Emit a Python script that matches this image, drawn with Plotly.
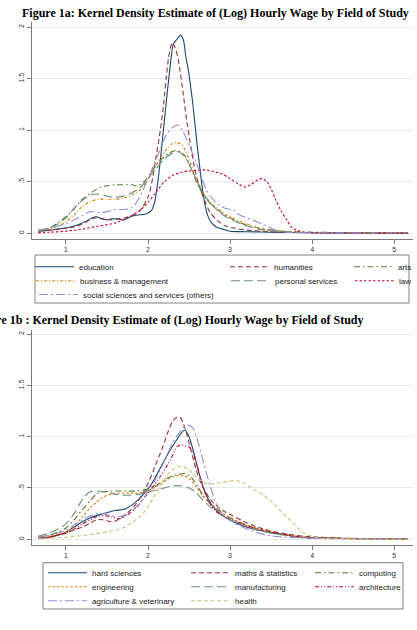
import plotly.graph_objects as go

W, H = 417, 630

# ---------------- Figure 1a data ----------------
edu_x = [0.66, 0.8, 0.9, 1.0, 1.1, 1.17, 1.25, 1.32, 1.37, 1.43, 1.5, 1.56, 1.62, 1.7, 1.76, 1.82, 1.9, 1.98, 2.04, 2.08, 2.12, 2.15, 2.19, 2.23, 2.27, 2.31, 2.35, 2.38, 2.40, 2.43, 2.46, 2.49, 2.52, 2.55, 2.58, 2.61, 2.64, 2.67, 2.71, 2.75, 2.8, 2.86, 2.91, 3.0, 3.2, 3.5, 4.0, 4.5, 5.0, 5.17]
edu_y = [0.02, 0.03, 0.04, 0.05, 0.07, 0.09, 0.12, 0.15, 0.16, 0.14, 0.13, 0.14, 0.14, 0.13, 0.15, 0.17, 0.18, 0.19, 0.22, 0.3, 0.5, 0.71, 1.02, 1.33, 1.62, 1.84, 1.88, 1.91, 1.92, 1.88, 1.72, 1.59, 1.42, 1.23, 1.0, 0.78, 0.58, 0.39, 0.22, 0.13, 0.08, 0.05, 0.04, 0.02, 0.015, 0.01, 0.005, 0.003, 0.002, 0.001]

hum_x = [0.66, 0.8, 0.9, 1.0, 1.1, 1.17, 1.25, 1.32, 1.37, 1.45, 1.55, 1.65, 1.72, 1.8, 1.9, 2.0, 2.06, 2.1, 2.15, 2.19, 2.22, 2.25, 2.28, 2.30, 2.33, 2.36, 2.39, 2.43, 2.47, 2.51, 2.55, 2.6, 2.64, 2.7, 2.75, 2.85, 2.95, 3.05, 3.2, 3.5, 4.0, 4.5, 5.17]
hum_y = [0.02, 0.03, 0.04, 0.05, 0.06, 0.08, 0.11, 0.14, 0.15, 0.14, 0.13, 0.14, 0.15, 0.17, 0.22, 0.35, 0.55, 0.75, 1.0, 1.25, 1.49, 1.7, 1.82, 1.85, 1.80, 1.72, 1.58, 1.35, 1.10, 0.9, 0.71, 0.52, 0.42, 0.3, 0.21, 0.12, 0.07, 0.05, 0.03, 0.015, 0.005, 0.003, 0.001]

arts_x = [0.66, 0.8, 0.9, 1.0, 1.1, 1.2, 1.3, 1.4, 1.5, 1.6, 1.7, 1.8, 1.87, 1.95, 2.02, 2.1, 2.18, 2.26, 2.33, 2.4, 2.46, 2.53, 2.6, 2.66, 2.72, 2.8, 2.9, 3.0, 3.1, 3.2, 3.35, 3.5, 3.7, 4.0, 4.5, 5.17]
arts_y = [0.02, 0.05, 0.1, 0.16, 0.24, 0.33, 0.39, 0.44, 0.46, 0.47, 0.47, 0.47, 0.46, 0.5, 0.57, 0.66, 0.73, 0.78, 0.8, 0.79, 0.74, 0.62, 0.48, 0.39, 0.32, 0.26, 0.2, 0.15, 0.11, 0.08, 0.05, 0.03, 0.015, 0.01, 0.005, 0.002]

bus_x = [0.66, 0.8, 0.9, 1.0, 1.1, 1.2, 1.3, 1.4, 1.5, 1.6, 1.7, 1.8, 1.9, 2.0, 2.1, 2.2, 2.3, 2.36, 2.42, 2.5, 2.58, 2.66, 2.75, 2.85, 2.95, 3.05, 3.2, 3.35, 3.5, 3.7, 4.0, 5.17]
bus_y = [0.02, 0.04, 0.07, 0.11, 0.18, 0.26, 0.31, 0.33, 0.33, 0.33, 0.34, 0.37, 0.42, 0.52, 0.66, 0.79, 0.87, 0.88, 0.85, 0.72, 0.55, 0.41, 0.31, 0.24, 0.18, 0.14, 0.09, 0.05, 0.03, 0.015, 0.008, 0.002]

pers_x = [0.66, 0.8, 0.9, 1.0, 1.1, 1.2, 1.3, 1.38, 1.5, 1.6, 1.7, 1.8, 1.9, 2.0, 2.1, 2.2, 2.3, 2.37, 2.45, 2.52, 2.6, 2.68, 2.76, 2.85, 2.95, 3.05, 3.2, 3.35, 3.5, 3.8, 4.2, 5.17]
pers_y = [0.02, 0.05, 0.09, 0.15, 0.24, 0.32, 0.37, 0.38, 0.36, 0.35, 0.36, 0.39, 0.44, 0.53, 0.63, 0.72, 0.78, 0.79, 0.74, 0.64, 0.5, 0.38, 0.29, 0.22, 0.16, 0.12, 0.07, 0.04, 0.025, 0.01, 0.005, 0.002]

law_x = [0.66, 0.8, 1.0, 1.2, 1.4, 1.6, 1.8, 1.9, 2.0, 2.1, 2.2, 2.3, 2.4, 2.5, 2.6, 2.7, 2.8, 2.9, 3.0, 3.1, 3.18, 3.25, 3.32, 3.39, 3.45, 3.5, 3.56, 3.62, 3.69, 3.75, 3.81, 3.9, 4.0, 4.5, 5.17]
law_y = [0.005, 0.01, 0.02, 0.04, 0.07, 0.1, 0.17, 0.22, 0.3, 0.4, 0.5, 0.56, 0.59, 0.605, 0.61, 0.615, 0.6, 0.575, 0.53, 0.48, 0.45, 0.47, 0.51, 0.53, 0.5, 0.43, 0.32, 0.22, 0.13, 0.06, 0.03, 0.01, 0.005, 0.002, 0.001]

soc_x = [0.66, 0.8, 0.9, 1.0, 1.1, 1.2, 1.29, 1.4, 1.5, 1.6, 1.7, 1.82, 1.94, 2.01, 2.08, 2.15, 2.22, 2.29, 2.36, 2.42, 2.47, 2.53, 2.59, 2.65, 2.71, 2.79, 2.87, 2.95, 3.0, 3.05, 3.11, 3.2, 3.27, 3.33, 3.39, 3.45, 3.52, 3.6, 3.68, 4.0, 5.17]
soc_y = [0.03, 0.05, 0.07, 0.09, 0.13, 0.17, 0.21, 0.2, 0.21, 0.23, 0.23, 0.26, 0.42, 0.55, 0.68, 0.82, 0.95, 1.02, 1.05, 1.0, 0.91, 0.8, 0.68, 0.55, 0.42, 0.33, 0.27, 0.24, 0.23, 0.22, 0.18, 0.15, 0.13, 0.11, 0.09, 0.07, 0.04, 0.02, 0.01, 0.005, 0.002]

# ---------------- Figure 1b data ----------------
hard_x = [0.66, 0.8, 0.9, 1.0, 1.1, 1.2, 1.3, 1.41, 1.5, 1.6, 1.7, 1.8, 1.9, 2.02, 2.1, 2.18, 2.27, 2.35, 2.42, 2.45, 2.5, 2.55, 2.61, 2.67, 2.73, 2.79, 2.88, 2.99, 3.1, 3.24, 3.4, 3.53, 3.7, 3.85, 4.0, 4.3, 4.7, 5.17]
hard_y = [0.01, 0.02, 0.04, 0.07, 0.12, 0.17, 0.21, 0.24, 0.26, 0.28, 0.29, 0.33, 0.4, 0.51, 0.62, 0.74, 0.87, 0.97, 1.05, 1.065, 1.0, 0.87, 0.68, 0.51, 0.4, 0.32, 0.25, 0.19, 0.15, 0.11, 0.08, 0.06, 0.04, 0.02, 0.015, 0.01, 0.005, 0.002]

math_x = [0.66, 0.8, 0.9, 1.0, 1.1, 1.2, 1.3, 1.37, 1.45, 1.57, 1.63, 1.69, 1.78, 1.86, 1.94, 2.02, 2.1, 2.18, 2.25, 2.30, 2.35, 2.39, 2.43, 2.47, 2.53, 2.59, 2.65, 2.71, 2.77, 2.83, 2.93, 3.03, 3.15, 3.3, 3.5, 3.7, 3.9, 4.2, 4.6, 5.17]
math_y = [0.01, 0.02, 0.04, 0.06, 0.09, 0.12, 0.16, 0.19, 0.19, 0.17, 0.19, 0.22, 0.28, 0.35, 0.45, 0.58, 0.74, 0.9, 1.06, 1.15, 1.19, 1.19, 1.13, 1.03, 0.85, 0.67, 0.54, 0.45, 0.38, 0.33, 0.27, 0.23, 0.18, 0.13, 0.08, 0.05, 0.03, 0.015, 0.007, 0.002]

comp_x = [0.66, 0.8, 0.9, 1.0, 1.1, 1.2, 1.3, 1.37, 1.45, 1.55, 1.65, 1.75, 1.85, 1.95, 2.05, 2.15, 2.25, 2.35, 2.45, 2.53, 2.6, 2.68, 2.76, 2.85, 2.95, 3.05, 3.2, 3.35, 3.5, 3.7, 3.9, 4.2, 5.17]
comp_y = [0.02, 0.04, 0.07, 0.11, 0.19, 0.29, 0.38, 0.44, 0.46, 0.47, 0.47, 0.47, 0.47, 0.48, 0.5, 0.55, 0.6, 0.63, 0.64, 0.6, 0.52, 0.42, 0.35, 0.29, 0.23, 0.19, 0.14, 0.1, 0.07, 0.04, 0.02, 0.01, 0.002]

eng_x = [0.66, 0.8, 0.9, 1.0, 1.1, 1.2, 1.3, 1.37, 1.45, 1.55, 1.65, 1.75, 1.85, 1.95, 2.05, 2.15, 2.25, 2.35, 2.43, 2.5, 2.58, 2.66, 2.74, 2.83, 2.93, 3.03, 3.15, 3.3, 3.5, 3.7, 3.9, 4.2, 5.17]
eng_y = [0.02, 0.03, 0.05, 0.07, 0.13, 0.22, 0.31, 0.36, 0.41, 0.44, 0.45, 0.45, 0.45, 0.46, 0.49, 0.54, 0.59, 0.62, 0.62, 0.59, 0.52, 0.43, 0.36, 0.3, 0.24, 0.2, 0.15, 0.11, 0.07, 0.04, 0.02, 0.01, 0.002]

manu_x = [0.66, 0.8, 0.9, 1.0, 1.1, 1.17, 1.23, 1.29, 1.4, 1.5, 1.6, 1.7, 1.8, 1.9, 2.0, 2.1, 2.2, 2.3, 2.41, 2.5, 2.58, 2.66, 2.74, 2.83, 2.93, 3.03, 3.15, 3.3, 3.5, 3.7, 3.9, 4.2, 5.17]
manu_y = [0.03, 0.06, 0.1, 0.15, 0.25, 0.35, 0.42, 0.46, 0.47, 0.46, 0.44, 0.43, 0.43, 0.44, 0.46, 0.48, 0.5, 0.52, 0.52, 0.5, 0.46, 0.39, 0.33, 0.27, 0.22, 0.18, 0.14, 0.1, 0.06, 0.035, 0.02, 0.01, 0.002]

arch_x = [0.66, 0.8, 0.9, 1.0, 1.1, 1.2, 1.3, 1.37, 1.45, 1.55, 1.65, 1.75, 1.85, 1.9, 2.0, 2.06, 2.14, 2.22, 2.3, 2.35, 2.4, 2.45, 2.5, 2.55, 2.59, 2.65, 2.71, 2.77, 2.83, 2.93, 3.03, 3.15, 3.3, 3.5, 3.7, 3.9, 4.2, 5.17]
arch_y = [0.01, 0.02, 0.04, 0.06, 0.1, 0.15, 0.19, 0.22, 0.23, 0.22, 0.2, 0.24, 0.3, 0.35, 0.45, 0.51, 0.6, 0.7, 0.82, 0.9, 0.92, 0.91, 0.9, 0.84, 0.74, 0.58, 0.42, 0.33, 0.27, 0.22, 0.19, 0.15, 0.11, 0.07, 0.04, 0.02, 0.01, 0.002]

agri_x = [0.66, 0.8, 0.9, 1.0, 1.1, 1.2, 1.3, 1.37, 1.45, 1.55, 1.65, 1.75, 1.82, 1.9, 1.98, 2.06, 2.14, 2.22, 2.3, 2.39, 2.45, 2.49, 2.54, 2.59, 2.65, 2.71, 2.77, 2.83, 2.89, 2.95, 3.05, 3.15, 3.24, 3.35, 3.45, 3.6, 3.8, 4.2, 5.17]
agri_y = [0.02, 0.04, 0.06, 0.09, 0.14, 0.19, 0.23, 0.25, 0.25, 0.23, 0.22, 0.25, 0.29, 0.35, 0.44, 0.54, 0.66, 0.8, 0.94, 1.05, 1.1, 1.11, 1.09, 1.0, 0.83, 0.65, 0.49, 0.35, 0.27, 0.22, 0.16, 0.12, 0.09, 0.06, 0.04, 0.025, 0.015, 0.007, 0.002]

heal_x = [0.66, 0.8, 1.0, 1.2, 1.41, 1.61, 1.72, 1.82, 1.9, 1.98, 2.04, 2.1, 2.16, 2.22, 2.3, 2.4, 2.48, 2.55, 2.63, 2.71, 2.79, 2.87, 2.97, 3.08, 3.16, 3.24, 3.32, 3.41, 3.47, 3.53, 3.61, 3.69, 3.77, 3.85, 3.93, 4.0, 4.1, 4.3, 5.17]
heal_y = [0.005, 0.01, 0.02, 0.035, 0.06, 0.09, 0.12, 0.17, 0.22, 0.29, 0.37, 0.45, 0.53, 0.61, 0.68, 0.71, 0.69, 0.64, 0.58, 0.54, 0.54, 0.55, 0.565, 0.57, 0.55, 0.51, 0.47, 0.43, 0.39, 0.35, 0.28, 0.22, 0.16, 0.09, 0.05, 0.03, 0.01, 0.005, 0.001]

y_tickvals = [0, 0.5, 1, 1.5, 2]
y_ticktext = ["0", ".5", "1", "1.5", "2"]
x_tickvals = [1, 2, 3, 4, 5]
x_ticktext = ["1", "2", "3", "4", "5"]

title_a = "Figure 1a: Kernel Density Estimate of (Log) Hourly Wage by Field of Study"
title_b = "Figure 1b : Kernel Density Estimate of (Log) Hourly Wage by Field of Study"

NAVY = "#1a476f"; MAROON = "#90353b"; FOREST = "#55752f"; DKORANGE = "#e37e00"
TEAL = "#6e8e84"; CRANBERRY = "#c10534"; LAVENDER = "#938dd2"; KHAKI = "#cac27e"

SOLID = "solid"
DASH = "5px,3px"
DASHDOT = "6px,3px,1.5px,3px"
SHORTDASHDOT = "3px,2px,1px,2px"
LONGDASH = "9px,4px"
SHORTDASH = "2.5px,2px"
LONGDASHDOT = "9px,3px,2px,3px"
DASHDOTDOT = "4px,2px,1px,2px,1px,2px"
KHAKIDASH = "4px,2.5px"

# (name, x, y, color, dash, legend-row, legendwidth)
series_a = [
    ("education", edu_x, edu_y, NAVY, SOLID, "legend", 141),
    ("humanities", hum_x, hum_y, MAROON, DASH, "legend", 70),
    ("arts", arts_x, arts_y, FOREST, DASHDOT, "legend", None),
    ("business & management", bus_x, bus_y, DKORANGE, SHORTDASHDOT, "legend2", 141),
    ("personal services", pers_x, pers_y, TEAL, LONGDASH, "legend2", 70),
    ("law", law_x, law_y, CRANBERRY, SHORTDASH, "legend2", None),
    ("social sciences and services (others)", soc_x, soc_y, LAVENDER, LONGDASHDOT, "legend3", None),
]
series_b = [
    ("hard sciences", hard_x, hard_y, NAVY, SOLID, "legend4", 89),
    ("maths & statistics", math_x, math_y, MAROON, DASH, "legend4", 70),
    ("computing", comp_x, comp_y, FOREST, DASHDOT, "legend4", None),
    ("engineering", eng_x, eng_y, DKORANGE, SHORTDASH, "legend5", 89),
    ("manufacturing", manu_x, manu_y, TEAL, LONGDASH, "legend5", 70),
    ("architecture", arch_x, arch_y, CRANBERRY, DASHDOTDOT, "legend5", None),
    ("agriculture & veterinary", agri_x, agri_y, LAVENDER, LONGDASHDOT, "legend6", 89),
    ("health", heal_x, heal_y, KHAKI, KHAKIDASH, "legend6", None),
]

fig = go.Figure()
for axes, series in (("1", series_a), ("2", series_b)):
    for name, xs, ys, col, dash, leg, lw in series:
        tr = dict(x=xs, y=ys, mode="lines", name=name,
                  line=dict(color=col, width=1.1, dash=dash, shape="spline", smoothing=0.8),
                  xaxis="x" if axes == "1" else "x2",
                  yaxis="y" if axes == "1" else "y2",
                  legend=leg, hoverinfo="skip")
        if lw is not None:
            tr["legendwidth"] = lw
        fig.add_trace(go.Scatter(**tr))

AXIS_COL = "#7a7a7a"
GRID_COL = "#e4eaea"
TICKFONT = dict(family="Liberation Sans, Arial", size=7, color="#333333")
X_RANGE = [0.586, 5.23]

def xaxis_conf(anchor):
    return dict(domain=[32 / W, 413 / W], range=X_RANGE, tickvals=x_tickvals, ticktext=x_ticktext,
                showline=True, linecolor=AXIS_COL, linewidth=1, ticks="outside", ticklen=4,
                tickcolor=AXIS_COL, showgrid=False, zeroline=False, tickfont=TICKFONT, anchor=anchor)

def yaxis_conf(top_px, bot_px, rng, anchor):
    return dict(domain=[1 - bot_px / H, 1 - top_px / H], range=rng, tickvals=y_tickvals,
                ticktext=y_ticktext, showline=True, linecolor=AXIS_COL, linewidth=1,
                ticks="outside", ticklen=4, tickcolor=AXIS_COL, showgrid=True,
                gridcolor=GRID_COL, gridwidth=1, zeroline=False, tickangle=-90,
                tickfont=TICKFONT, anchor=anchor)

LEGFONT = dict(family="Liberation Sans, Arial", size=8, color="#222222")

def leg(xpx, ycpx):
    return dict(orientation="h", x=xpx / W, xanchor="left", y=1 - ycpx / H, yanchor="middle",
                bgcolor="rgba(0,0,0,0)", borderwidth=0, font=LEGFONT, itemwidth=39,
                tracegroupgap=0, itemclick=False, itemdoubleclick=False)

fig.update_layout(
    width=W, height=H, autosize=False,
    margin=dict(l=0, r=0, t=0, b=0),
    paper_bgcolor="white", plot_bgcolor="white",
    xaxis=xaxis_conf("y"),
    yaxis=yaxis_conf(22, 239, [-0.056, 2.05], "x"),
    xaxis2=xaxis_conf("y2"),
    yaxis2=yaxis_conf(330, 545, [-0.056, 2.04], "x2"),
    legend=leg(34, 266.7),
    legend2=leg(34, 280.7),
    legend3=leg(34, 294.5),
    legend4=leg(43, 572.7),
    legend5=leg(43, 586.7),
    legend6=leg(43, 600.7),
    showlegend=True,
    shapes=[
        dict(type="rect", xref="paper", yref="paper", x0=35 / W, x1=409 / W,
             y0=1 - 303 / H, y1=1 - 255 / H, line=dict(color="#808080", width=1)),
        dict(type="rect", xref="paper", yref="paper", x0=43 / W, x1=403 / W,
             y0=1 - 609 / H, y1=1 - 562.7 / H, line=dict(color="#808080", width=1)),
    ],
    annotations=[
        dict(text="<b>" + title_a + "</b>", xref="paper", yref="paper", x=215.5 / W, y=1 - 12.5 / H,
             xanchor="center", yanchor="middle", showarrow=False,
             font=dict(family="Liberation Serif, Times New Roman", size=12, color="black")),
        dict(text="<b>" + title_b + "</b>", xref="paper", yref="paper", x=366 / W, y=1 - 319.5 / H,
             xanchor="right", yanchor="middle", showarrow=False,
             font=dict(family="Liberation Serif, Times New Roman", size=12, color="black")),
    ],
)

fig.write_html("out.html")
